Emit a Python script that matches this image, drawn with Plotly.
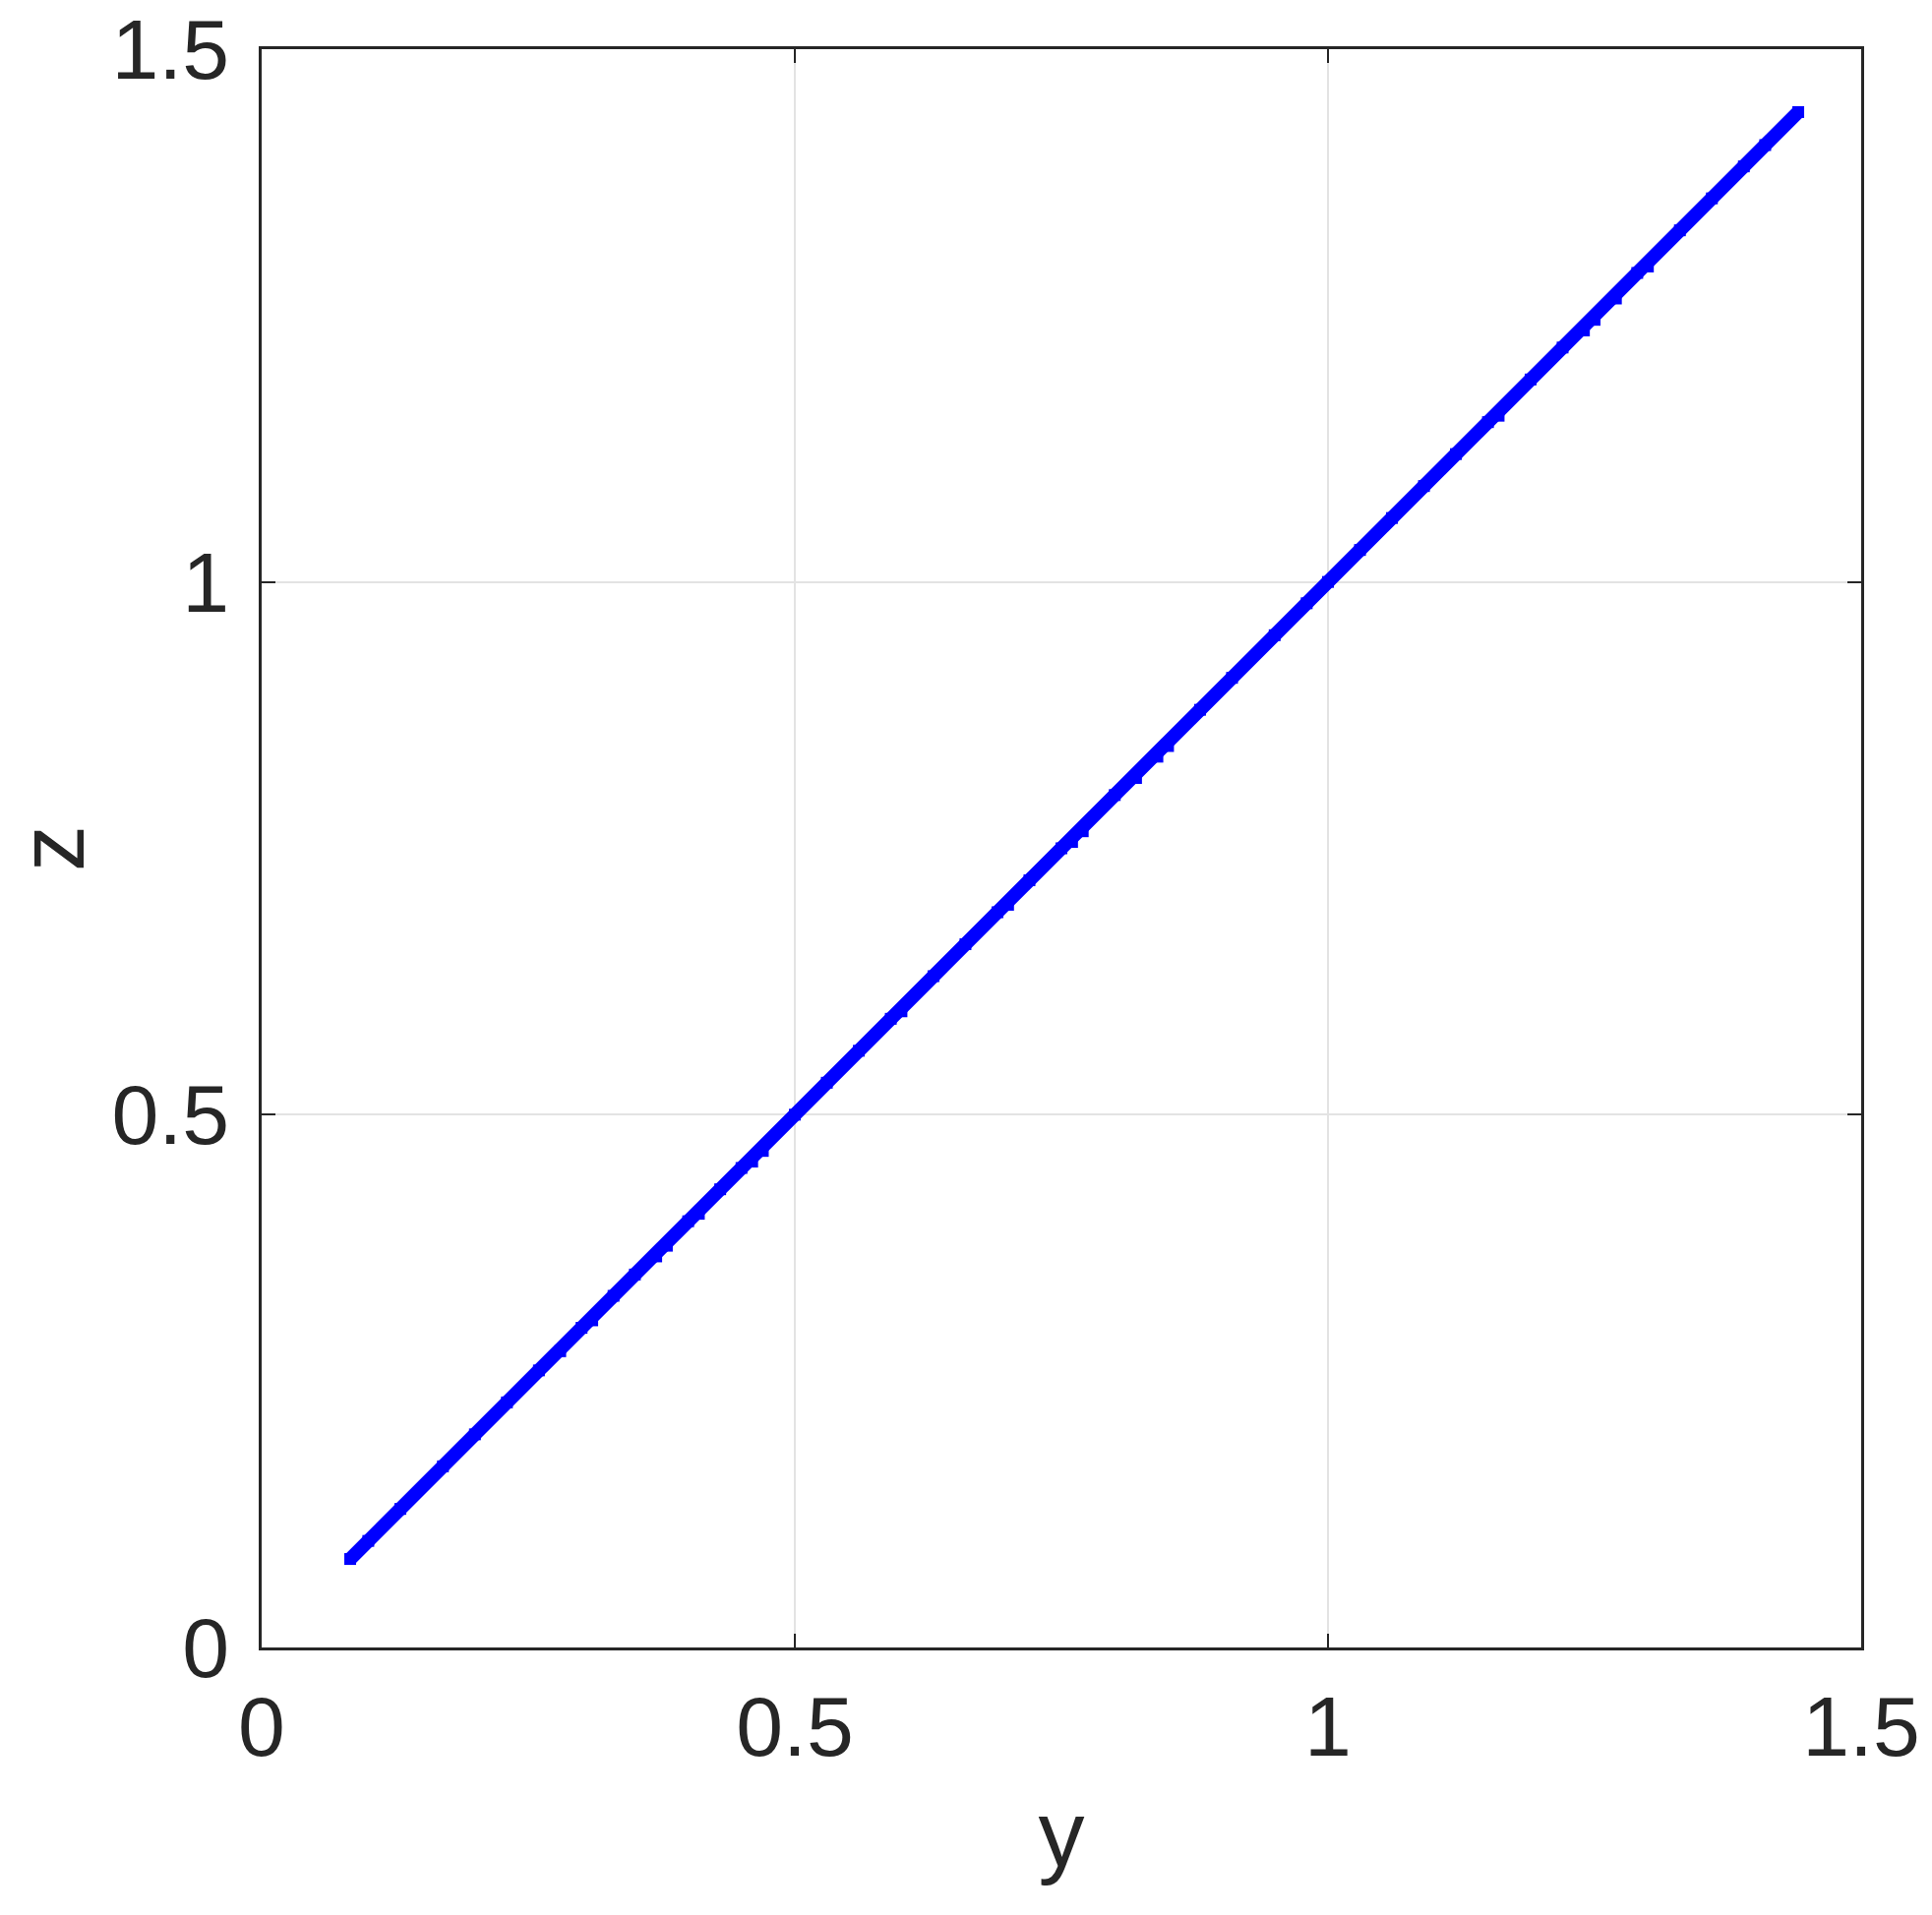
import plotly.graph_objects as go

# data (y vs z, nearly the identity line with small deviations)
y_vals = [0.083, 0.10, 0.13, 0.17, 0.20, 0.23, 0.26, 0.28, 0.30, 0.31, 0.33, 0.35, 0.37, 0.38,
          0.40, 0.41, 0.43, 0.45, 0.46, 0.47, 0.50, 0.53, 0.56, 0.59, 0.60, 0.63, 0.66, 0.69,
          0.70, 0.72, 0.75, 0.76, 0.77, 0.80, 0.82, 0.84, 0.85, 0.88, 0.91, 0.95, 0.98, 1.00,
          1.03, 1.06, 1.09, 1.12, 1.15, 1.16, 1.19, 1.22, 1.24, 1.25, 1.27, 1.29, 1.30, 1.33,
          1.36, 1.39, 1.41, 1.441]
z_vals = [0.083, 0.10, 0.13, 0.17, 0.20, 0.23, 0.26, 0.278, 0.30, 0.307, 0.33, 0.35, 0.367, 0.377,
          0.40, 0.407, 0.43, 0.45, 0.456, 0.466, 0.50, 0.53, 0.56, 0.59, 0.597, 0.63, 0.66, 0.69,
          0.697, 0.72, 0.75, 0.756, 0.766, 0.80, 0.816, 0.836, 0.846, 0.88, 0.91, 0.95, 0.98, 1.00,
          1.03, 1.06, 1.09, 1.12, 1.15, 1.156, 1.19, 1.22, 1.236, 1.246, 1.266, 1.29, 1.296, 1.33,
          1.36, 1.39, 1.41, 1.441]

x_ticks = [0, 0.5, 1, 1.5]
x_tick_labels = ["0", "0.5", "1", "1.5"]
z_ticks = [0, 0.5, 1, 1.5]
z_tick_labels = ["0", "0.5", "1", "1.5"]

fig = go.Figure()
fig.add_trace(go.Scatter(
    x=y_vals, y=z_vals, mode="lines+markers",
    line=dict(color="#0000ff", width=14),
    marker=dict(color="#0000ff", size=12, symbol="square"),
    showlegend=False,
))

font_fam = "Liberation Sans, Arial, Helvetica, sans-serif"
axis_common = dict(
    range=[0, 1.5],
    automargin=False,
    ticklabeloverflow="allow",
    showgrid=True, gridcolor="#e3e3e3", gridwidth=1.5,
    zeroline=False,
    showline=True, linecolor="#262626", linewidth=2.5,
    mirror="ticks", ticks="inside", ticklen=14, tickwidth=2, tickcolor="#262626",
    tickfont=dict(family=font_fam, size=86, color="#262626"),
)

fig.update_layout(
    width=1964, height=1947,
    margin=dict(l=266, r=72, t=50, b=272),
    paper_bgcolor="white", plot_bgcolor="white",
    xaxis=dict(**axis_common, tickvals=x_ticks, ticktext=x_tick_labels,
               ticklabelstandoff=4,
               title=dict(text="y", font=dict(family=font_fam, size=94, color="#262626"), standoff=30)),
    yaxis=dict(**axis_common, tickvals=z_ticks, ticktext=z_tick_labels,
               ticklabelstandoff=13,
               title=dict(text="z", font=dict(family=font_fam, size=94, color="#262626"), standoff=50)),
)

fig.write_html("out.html", config={"displayModeBar": False},
               post_script="document.body.style.margin='0';")
